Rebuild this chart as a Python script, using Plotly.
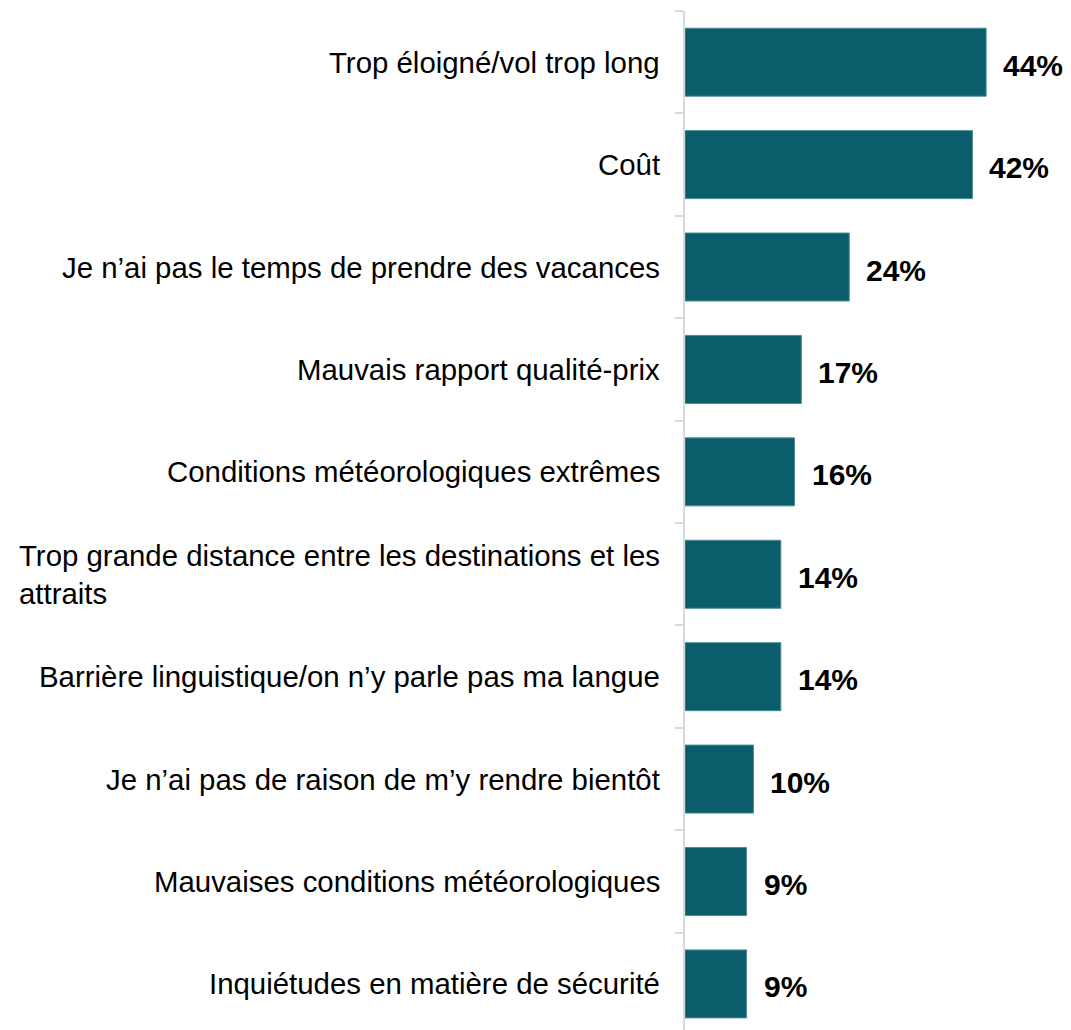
import plotly.graph_objects as go

# raisons de ne pas visiter (haut vers bas)
categories = [
    "Trop éloigné/vol trop long",
    "Coût",
    "Je n’ai pas le temps de prendre des vacances",
    "Mauvais rapport qualité-prix",
    "Conditions météorologiques extrêmes",
    "Trop grande distance entre les destinations et les<br>attraits",
    "Barrière linguistique/on n’y parle pas ma langue",
    "Je n’ai pas de raison de m’y rendre bientôt",
    "Mauvaises conditions météorologiques",
    "Inquiétudes en matière de sécurité",
]
values = [44, 42, 24, 17, 16, 14, 14, 10, 9, 9]
value_labels = ["44%", "42%", "24%", "17%", "16%", "14%", "14%", "10%", "9%", "9%"]

BAR = "#0b5d6b"
GRID = "#d9d9d9"
FONT = "Liberation Sans, Arial, sans-serif"

fig = go.Figure()
fig.add_trace(go.Bar(
    x=values, y=categories, orientation="h",
    marker=dict(color=BAR, line=dict(color="#4d8d99", width=1)),
    hoverinfo="skip",
))

annotations = []
# libellés des catégories, alignés à droite près de l'axe
for cat in categories:
    annotations.append(dict(
        x=0, xref="paper", y=cat, yref="y", text=cat,
        xanchor="right", yanchor="middle", xshift=-23, align="left",
        showarrow=False,
        font=dict(family=FONT, size=29.4, color="#000000"),
    ))
# pourcentages en gras au bout des barres
for cat, v, lab in zip(categories, values, value_labels):
    annotations.append(dict(
        x=v, xref="x", y=cat, yref="y", text="<b>" + lab + "</b>",
        xanchor="left", yanchor="middle", xshift=15, yshift=-3,
        showarrow=False,
        font=dict(family=FONT, size=30, color="#000000"),
    ))

# la page ajoute 8 px de marge autour du graphique
fig.update_layout(
    width=1063, height=1022,
    margin=dict(l=677, r=0, t=3, b=0),
    paper_bgcolor="white", plot_bgcolor="white",
    showlegend=False,
    bargap=0.336,
    annotations=annotations,
    xaxis=dict(range=[0, 56.4], visible=False, fixedrange=True),
    yaxis=dict(
        type="category", categoryorder="array", categoryarray=categories,
        range=[9.45, -0.5],
        showticklabels=False, showgrid=False, zeroline=False,
        showline=True, linecolor=GRID, linewidth=2,
        ticks="outside", tickson="boundaries", ticklen=8, tickwidth=2, tickcolor=GRID,
    ),
)

fig.write_html("out.html")
